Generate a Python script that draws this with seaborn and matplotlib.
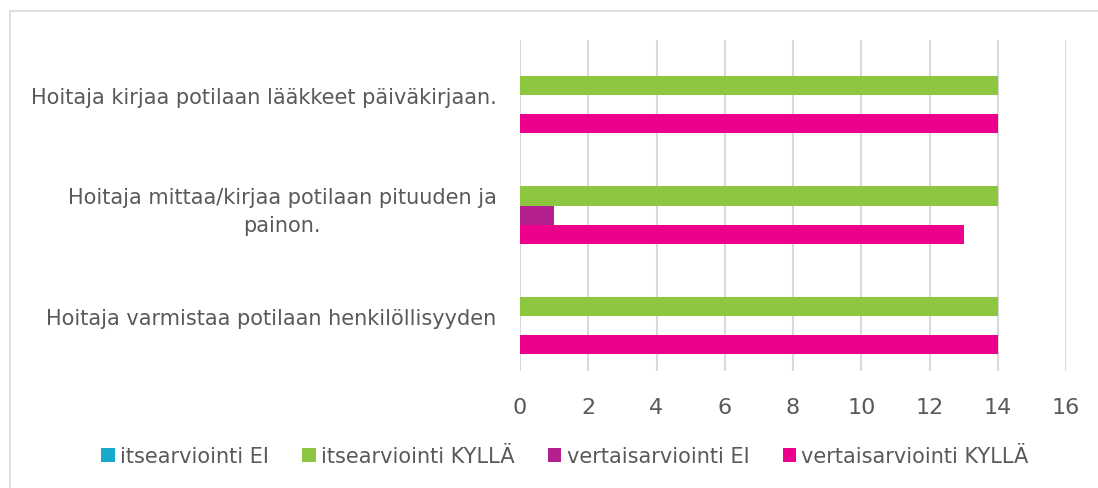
import pandas as pd
import matplotlib
matplotlib.use("Agg")
import matplotlib.pyplot as plt
import seaborn as sns
from matplotlib.patches import Rectangle, Patch

# Data
categories = [
    "Hoitaja kirjaa potilaan lääkkeet päiväkirjaan.",
    "Hoitaja mittaa/kirjaa potilaan pituuden ja\npainon.",
    "Hoitaja varmistaa potilaan henkilöllisyyden",
]
series = ["itsearviointi EI", "itsearviointi KYLLÄ", "vertaisarviointi EI", "vertaisarviointi KYLLÄ"]
itse_ei = [0, 0, 0]
itse_kylla = [14, 14, 14]
vertais_ei = [0, 1, 0]
vertais_kylla = [14, 13, 14]
x_ticks = [0, 2, 4, 6, 8, 10, 12, 14, 16]

colors = ["#17A8CC", "#8DC63F", "#B4218E", "#EC008C"]
text_grey = "#595959"

rows = []
for name, vals in zip(series, [itse_ei, itse_kylla, vertais_ei, vertais_kylla]):
    for cat, v in zip(categories, vals):
        rows.append({"Kategoria": cat, "Sarja": name, "Arvo": v})
df = pd.DataFrame(rows)

sns.set_theme(style="white")
plt.rcParams["font.family"] = ["DejaVu Sans"]

fig = plt.figure(figsize=(10.98, 4.89), dpi=100)
ax = fig.add_axes([520 / 1098, 1 - 372 / 489, 546 / 1098, 331 / 489])

sns.barplot(data=df, y="Kategoria", x="Arvo", hue="Sarja", order=categories,
            hue_order=series, palette=colors, saturation=1, orient="h",
            width=0.69, gap=0, linewidth=0, ax=ax, legend=False)

ax.set_xlim(0, 16)
ax.set_ylim(2.5, -0.5)
ax.set_xticks(x_ticks)
ax.xaxis.grid(True, color="#D9D9D9", linewidth=1.5)
ax.set_axisbelow(True)
for s in ax.spines.values():
    s.set_visible(False)
ax.set_xlabel("")
ax.set_ylabel("")
ax.tick_params(axis="x", labelsize=16, colors=text_grey, length=0, pad=19)
ax.tick_params(axis="y", labelsize=15, colors=text_grey, length=0, pad=17)
for lbl in ax.get_yticklabels():
    lbl.set_multialignment("center")
    lbl.set_linespacing(1.45)

handles = [Patch(facecolor=c, edgecolor="none") for c in colors]
fig.legend(handles, series, loc="center", bbox_to_anchor=(565 / 1098, 1 - 457 / 489),
           ncol=4, frameon=False, fontsize=15, labelcolor=text_grey,
           handlelength=0.65, handleheight=0.65, handletextpad=0.25,
           columnspacing=1.6)

# outer chart border (light grey frame)
fig.patches.append(Rectangle((9.5 / 1098, -0.1), 1.2, 1 - 11.5 / 489 + 0.1,
                             transform=fig.transFigure, fill=False,
                             edgecolor="#D9D9D9", linewidth=1.2))

fig.savefig("out.png", dpi=100, facecolor="white")
